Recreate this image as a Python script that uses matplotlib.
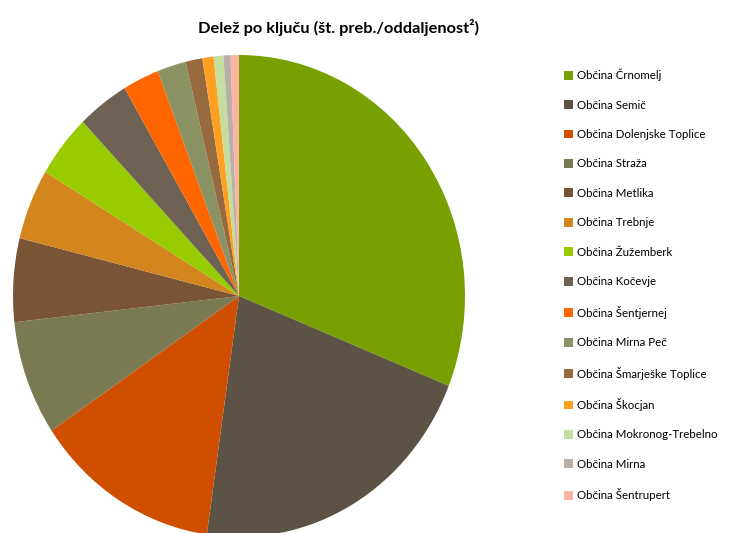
import matplotlib
matplotlib.use("Agg")
import matplotlib.pyplot as plt
from matplotlib.patches import Patch

plt.rcParams['font.family'] = ['Lato', 'DejaVu Sans']

municipalities = [
    "Občina Črnomelj", "Občina Semič", "Občina Dolenjske Toplice",
    "Občina Straža", "Občina Metlika", "Občina Trebnje", "Občina Žužemberk",
    "Občina Kočevje", "Občina Šentjernej", "Občina Mirna Peč",
    "Občina Šmarješke Toplice", "Občina Škocjan", "Občina Mokronog-Trebelno",
    "Občina Mirna", "Občina Šentrupert",
]
shares = [31.1, 21.2, 13.3, 7.7, 5.6, 4.75, 4.25, 3.7, 2.6, 2.05,
          1.2, 0.8, 0.7, 0.5, 0.6]
colors = ["#77a000", "#5c5346", "#d04e00", "#7a7a52", "#7a5535",
          "#d4861e", "#99cc00", "#6e6254", "#ff6600", "#8b9263",
          "#966a3e", "#ffa020", "#c4dea0", "#b8b0a8", "#fbb4a0"]

fig = plt.figure(figsize=(7.43, 5.33), dpi=100)
ax = fig.add_axes([13 / 743, -4 / 533, 452 / 743, 482 / 533])
ax.pie(shares, colors=colors, startangle=90, counterclock=False,
       wedgeprops=dict(linewidth=0))
ax.set_aspect('auto')
ax.set_xlim(-1, 1)
ax.set_ylim(-1, 1)

fig.text(339 / 743, 1 - 27 / 533, "Delež po ključu (št. preb./oddaljenost²)",
         ha='center', va='center', fontsize=11.8, fontweight='bold')

handles = [Patch(facecolor=c, edgecolor='none') for c in colors]
fig.legend(handles, municipalities, loc='upper left',
           bbox_to_anchor=(559 / 743, 1 - 64 / 533), frameon=False,
           fontsize=8.3, handlelength=0.8, handleheight=0.8,
           handletextpad=0.4, labelspacing=1.6, borderaxespad=0)

fig.savefig("out.png", dpi=100)
